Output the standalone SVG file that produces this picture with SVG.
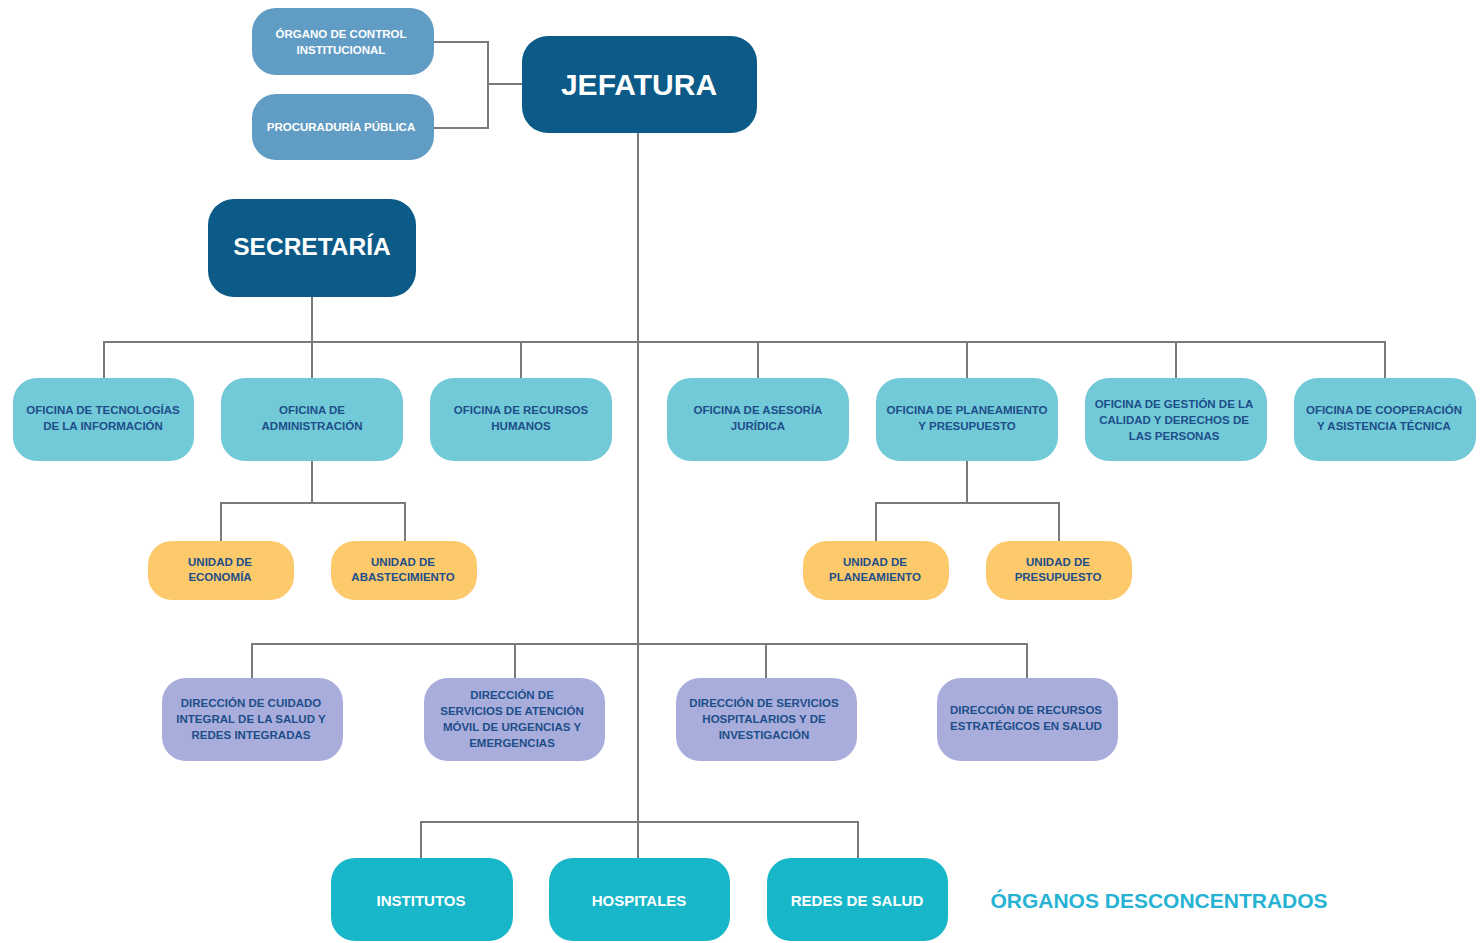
<svg xmlns="http://www.w3.org/2000/svg" width="1482" height="943" viewBox="0 0 1482 943">
<style>
text{font-family:"Liberation Sans",Arial,sans-serif;font-weight:bold;text-anchor:middle}
.conn{fill:none;stroke:#7a7a7a;stroke-width:2}
.ctrl{fill:#609cc4}
.head{fill:#0b5a87}
.ofi{fill:#72cad8}
.uni{fill:#fcc96b}
.dir{fill:#a9addc}
.des{fill:#17b7c9}
.sw{fill:#ffffff;font-size:11.5px}
.sd{fill:#1d4e89;font-size:11.5px}
.big{fill:#ffffff}
</style>
<rect width="1482" height="943" fill="#ffffff"/>
<g id="connectors" class="conn">
<path d="M434 42H488V128H434M488 84H522"/>
<path d="M638 133V858"/>
<path d="M312 297V342"/>
<path d="M104 378V342H1385V378M312 342V378M521 342V378M758 342V378M967 342V378M1176 342V378"/>
<path d="M312 461V503M221 541V503H405V541"/>
<path d="M967 461V503M876 541V503H1059V541"/>
<path d="M252 678V644H1027V678M515 644V678M766 644V678"/>
<path d="M421 858V822H858V858"/>
</g>
<g id="organo-control"><rect class="ctrl" x="252" y="8" width="182" height="67" rx="24"/><text class="sw" x="341" y="38">ÓRGANO DE CONTROL</text><text class="sw" x="341" y="54">INSTITUCIONAL</text></g>
<g id="procuraduria"><rect class="ctrl" x="252" y="94" width="182" height="66" rx="24"/><text class="sw" x="341" y="131">PROCURADURÍA PÚBLICA</text></g>
<g id="jefatura"><rect class="head" x="522" y="36" width="235" height="97" rx="26"/><text class="big" x="639" y="95" font-size="30">JEFATURA</text></g>
<g id="secretaria"><rect class="head" x="208" y="199" width="208" height="98" rx="26"/><text class="big" x="312" y="255" font-size="24.5">SECRETARÍA</text></g>
<g id="of-tic"><rect class="ofi" x="13" y="378" width="181" height="83" rx="24"/><text class="sd" x="103" y="414">OFICINA DE TECNOLOGÍAS</text><text class="sd" x="103" y="430">DE LA INFORMACIÓN</text></g>
<g id="of-admin"><rect class="ofi" x="221" y="378" width="182" height="83" rx="24"/><text class="sd" x="312" y="414">OFICINA DE</text><text class="sd" x="312" y="430">ADMINISTRACIÓN</text></g>
<g id="of-rrhh"><rect class="ofi" x="430" y="378" width="182" height="83" rx="24"/><text class="sd" x="521" y="414">OFICINA DE RECURSOS</text><text class="sd" x="521" y="430">HUMANOS</text></g>
<g id="of-juridica"><rect class="ofi" x="667" y="378" width="182" height="83" rx="24"/><text class="sd" x="758" y="414">OFICINA DE ASESORÍA</text><text class="sd" x="758" y="430">JURÍDICA</text></g>
<g id="of-planeamiento"><rect class="ofi" x="876" y="378" width="182" height="83" rx="24"/><text class="sd" x="967" y="414">OFICINA DE PLANEAMIENTO</text><text class="sd" x="967" y="430">Y PRESUPUESTO</text></g>
<g id="of-calidad"><rect class="ofi" x="1085" y="378" width="182" height="83" rx="24"/><text class="sd" x="1174" y="408">OFICINA DE GESTIÓN DE LA</text><text class="sd" x="1174" y="424">CALIDAD Y DERECHOS DE</text><text class="sd" x="1174" y="440">LAS PERSONAS</text></g>
<g id="of-cooperacion"><rect class="ofi" x="1294" y="378" width="182" height="83" rx="24"/><text class="sd" x="1384" y="414">OFICINA DE COOPERACIÓN</text><text class="sd" x="1384" y="430">Y ASISTENCIA TÉCNICA</text></g>
<g id="u-economia"><rect class="uni" x="148" y="541" width="146" height="59" rx="24"/><text class="sd" x="220" y="566">UNIDAD DE</text><text class="sd" x="220" y="581">ECONOMÍA</text></g>
<g id="u-abastecimiento"><rect class="uni" x="331" y="541" width="146" height="59" rx="24"/><text class="sd" x="403" y="566">UNIDAD DE</text><text class="sd" x="403" y="581">ABASTECIMIENTO</text></g>
<g id="u-planeamiento"><rect class="uni" x="803" y="541" width="146" height="59" rx="24"/><text class="sd" x="875" y="566">UNIDAD DE</text><text class="sd" x="875" y="581">PLANEAMIENTO</text></g>
<g id="u-presupuesto"><rect class="uni" x="986" y="541" width="146" height="59" rx="24"/><text class="sd" x="1058" y="566">UNIDAD DE</text><text class="sd" x="1058" y="581">PRESUPUESTO</text></g>
<g id="d-cuidado"><rect class="dir" x="162" y="678" width="181" height="83" rx="24"/><text class="sd" x="251" y="707">DIRECCIÓN DE CUIDADO</text><text class="sd" x="251" y="723">INTEGRAL DE LA SALUD Y</text><text class="sd" x="251" y="739">REDES INTEGRADAS</text></g>
<g id="d-urgencias"><rect class="dir" x="424" y="678" width="181" height="83" rx="24"/><text class="sd" x="512" y="699">DIRECCIÓN DE</text><text class="sd" x="512" y="715">SERVICIOS DE ATENCIÓN</text><text class="sd" x="512" y="731">MÓVIL DE URGENCIAS Y</text><text class="sd" x="512" y="747">EMERGENCIAS</text></g>
<g id="d-hospitalarios"><rect class="dir" x="676" y="678" width="181" height="83" rx="24"/><text class="sd" x="764" y="707">DIRECCIÓN DE SERVICIOS</text><text class="sd" x="764" y="723">HOSPITALARIOS Y DE</text><text class="sd" x="764" y="739">INVESTIGACIÓN</text></g>
<g id="d-recursos"><rect class="dir" x="937" y="678" width="181" height="83" rx="24"/><text class="sd" x="1026" y="714">DIRECCIÓN DE RECURSOS</text><text class="sd" x="1026" y="730">ESTRATÉGICOS EN SALUD</text></g>
<g id="institutos"><rect class="des" x="331" y="858" width="182" height="83" rx="24"/><text class="big" x="421" y="906" font-size="15">INSTITUTOS</text></g>
<g id="hospitales"><rect class="des" x="549" y="858" width="181" height="83" rx="24"/><text class="big" x="639" y="906" font-size="15">HOSPITALES</text></g>
<g id="redes"><rect class="des" x="767" y="858" width="181" height="83" rx="24"/><text class="big" x="857" y="906" font-size="15">REDES DE SALUD</text></g>
<g id="leyenda"><text x="1159" y="908" font-size="21" fill="#26b3d3">ÓRGANOS DESCONCENTRADOS</text></g>
</svg>
